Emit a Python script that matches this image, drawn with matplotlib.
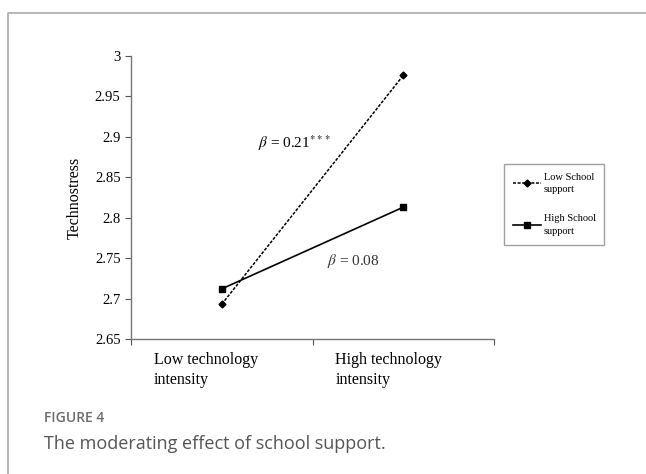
import matplotlib
matplotlib.use("Agg")
import matplotlib.pyplot as plt
from matplotlib.lines import Line2D
from matplotlib.transforms import ScaledTranslation

# datos
categorias = ["Low technology\nintensity", "High technology\nintensity"]
apoyo_bajo = [2.693, 2.976]   # Low School support
apoyo_alto = [2.712, 2.813]   # High School support
yticks = [2.65, 2.7, 2.75, 2.8, 2.85, 2.9, 2.95, 3]
ytick_labels = ["2.65", "2.7", "2.75", "2.8", "2.85", "2.9", "2.95", "3"]

plt.rcParams['font.family'] = ['Liberation Serif', 'DejaVu Serif']
plt.rcParams['mathtext.fontset'] = 'stix'

fig = plt.figure(figsize=(6.46, 4.74), dpi=100)
ax = fig.add_axes([131/646, 1-339/474, (494-131)/646, (339-56)/474])

x = list(range(len(categorias)))
ax.plot(x, apoyo_bajo, color='black', lw=1.1, linestyle=(0, (2, 1)),
        marker='D', markersize=3.5, label='Low School\nsupport')
ax.plot(x, apoyo_alto, color='black', lw=1.2, linestyle='-',
        marker='s', markersize=5, label='High School\nsupport')

ax.set_xlim(-0.5, 1.5)
ax.set_ylim(2.65, 3)
ax.set_yticks(yticks)
ax.set_yticklabels(ytick_labels, fontsize=10.5)

# ticks del eje x entre categorias, etiquetas en el centro
ax.set_xticks([-0.5, 0.5, 1.5])
ax.set_xticklabels([])
ax.set_xticks(x, minor=True)
ax.set_xticklabels(categorias, minor=True, fontsize=11.5, ha='left', va='top',
                   multialignment='left', linespacing=1.35)
ax.tick_params(axis='x', which='minor', length=0, pad=9)
ax.tick_params(axis='both', which='major', length=4, direction='out', color='#555555', width=0.8)
for lab in ax.get_xticklabels(minor=True):
    lab.set_transform(lab.get_transform() + ScaledTranslation(-68/100, 0, fig.dpi_scale_trans))

for s in ['top', 'right']:
    ax.spines[s].set_visible(False)
for s in ['left', 'bottom']:
    ax.spines[s].set_color('#777777')
    ax.spines[s].set_linewidth(1.0)

ax.set_ylabel('Technostress', fontsize=11.5, labelpad=9)

ax.text(0.2, 2.892, r'$\beta$ = 0.21$^{***}$', fontsize=11, va='center', ha='left')
ax.text(0.58, 2.746, r'$\beta$ = 0.08', fontsize=11, va='center', ha='left', color='#333333')

leg = ax.legend(loc='upper left', bbox_to_anchor=(504/646, 1-164/474), bbox_transform=fig.transFigure,
                fontsize=7.5, frameon=True, fancybox=False, edgecolor='#888888',
                handlelength=2.7, handletextpad=0.25, labelspacing=1.9, borderpad=0.85,
                borderaxespad=0)
leg.get_frame().set_linewidth(1.0)
for t in leg.get_texts():
    t.set_linespacing(1.5)

# marco de la figura
fig.add_artist(Line2D([8/646, 8/646, 1], [0, 1-13/474, 1-13/474],
                      transform=fig.transFigure, color='#aaaaaa', lw=1.2))

# pie de figura
fig.text(44/646, 1-418/474, 'FIGURE 4', fontsize=10, family='Open Sans',
         fontweight='semibold', color='#6b6b6b', va='center')
fig.text(44/646, 1-444/474, 'The moderating effect of school support.', fontsize=13,
         family='Open Sans', color='#555555', va='center')

fig.savefig('out.png', dpi=100)
